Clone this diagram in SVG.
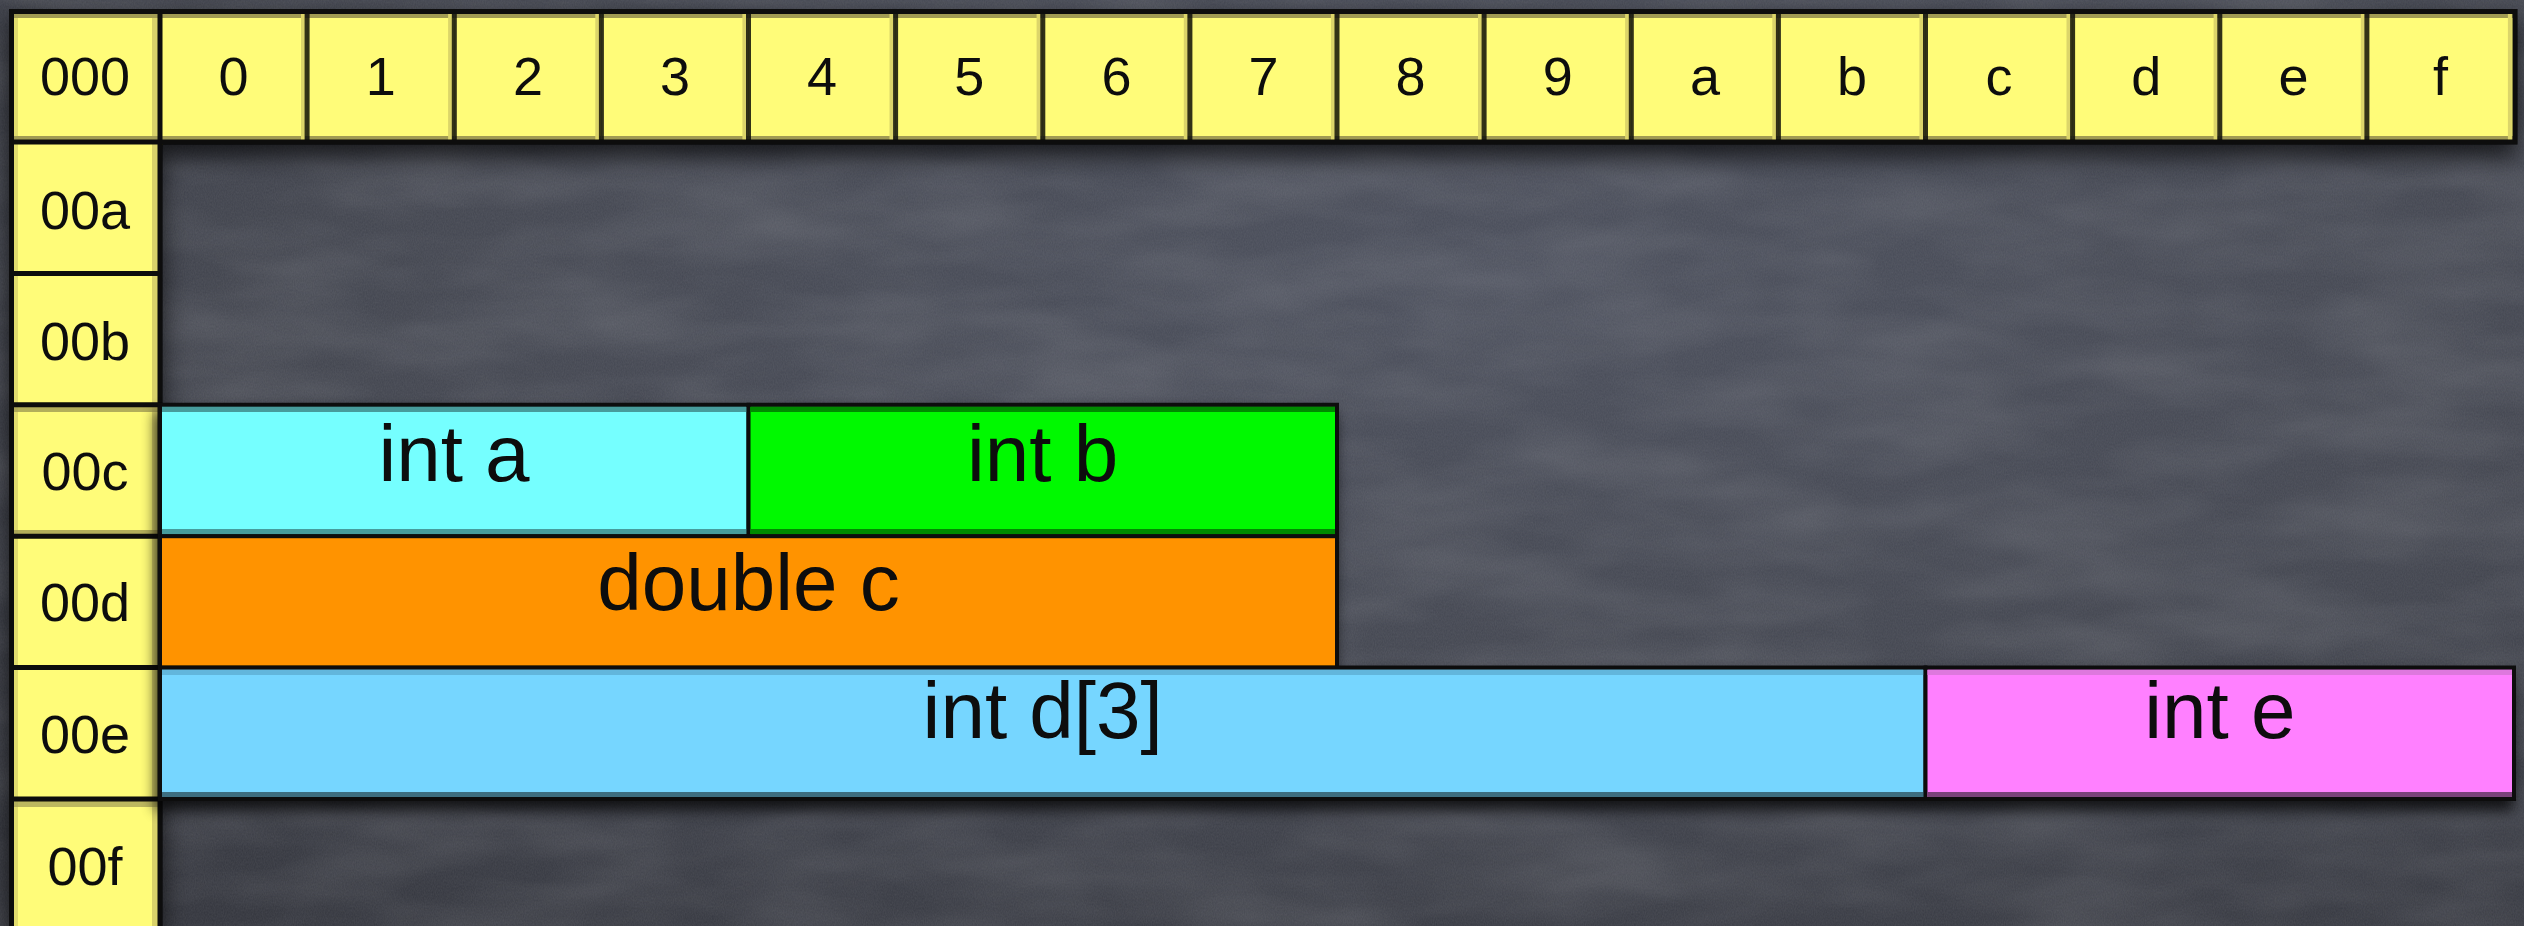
<svg xmlns="http://www.w3.org/2000/svg" xmlns:xlink="http://www.w3.org/1999/xlink" width="2524" height="926" viewBox="0 0 2524 926">
<defs>
  <radialGradient id="bg" cx="0.6" cy="0.3" r="0.85">
    <stop offset="0" stop-color="#4a4e5b"/>
    <stop offset="0.55" stop-color="#42454f"/>
    <stop offset="1" stop-color="#33353d"/>
  </radialGradient>
  <filter id="grain" x="0" y="0" width="100%" height="100%">
    <feTurbulence type="fractalNoise" baseFrequency="0.9 0.5" numOctaves="2" seed="3" result="n"/>
    <feColorMatrix type="matrix" values="0 0 0 0 1  0 0 0 0 1  0 0 0 0 1  0 0 0 0.08 0"/>
  </filter>
  <filter id="blotch" x="0" y="0" width="100%" height="100%">
    <feTurbulence type="fractalNoise" baseFrequency="0.006 0.02" numOctaves="3" seed="7"/>
    <feColorMatrix type="matrix" values="0 0 0 0 1  0 0 0 0 1  0 0 0 0 1  0 0 0 0.16 -0.05"/>
  </filter>
  <filter id="shadow" x="-5%" y="-20%" width="110%" height="160%">
    <feGaussianBlur in="SourceAlpha" stdDeviation="7"/>
    <feOffset dx="-3" dy="9" result="b"/>
    <feComponentTransfer><feFuncA type="linear" slope="0.75"/></feComponentTransfer>
    <feMerge><feMergeNode/><feMergeNode in="SourceGraphic"/></feMerge>
  </filter>
  <filter id="tshadow" x="-5%" y="-5%" width="110%" height="120%">
    <feGaussianBlur in="SourceAlpha" stdDeviation="12"/>
    <feOffset dx="0" dy="12" result="b"/>
    <feComponentTransfer><feFuncA type="linear" slope="0.7"/></feComponentTransfer>
    <feMerge><feMergeNode/><feMergeNode in="SourceGraphic"/></feMerge>
  </filter>
  <g id="hcell">
    <rect width="147.2" height="131" fill="#FFFC79"/>
    <rect width="147.2" height="5" y="2" fill="#A09A52"/>
    <rect width="147.2" height="5" y="125" fill="#A09A52"/>
    <rect width="4" height="131" x="141" fill="#DCD56A"/>
  </g>
  <g id="lcell">
    <rect width="149" height="131.4" fill="#FFFC79"/>
    <rect width="4" height="131.4" x="3" fill="#E2DC6E"/>
    <rect width="6" height="131.4" x="141" fill="#D9D26A"/>
  </g>
</defs>
<style>
  .h{font-family:"Liberation Sans",Arial,sans-serif;font-size:54px;fill:#111;text-anchor:middle}
  .v{font-family:"Liberation Sans",Arial,sans-serif;font-size:80px;fill:#0a0a0a;text-anchor:middle}
  .ln{stroke:#0d0d08;stroke-width:5;fill:none}
  .blk{stroke:#0a0a0a;stroke-width:4}
</style>

<rect width="2524" height="926" fill="url(#bg)"/>
<rect width="2524" height="926" filter="url(#blotch)"/>
<rect width="2524" height="926" filter="url(#grain)"/>

<g id="table" filter="url(#tshadow)">
  <g id="hdr-000"><use href="#lcell" x="11" y="11"/><rect x="11" y="13" width="149" height="5" fill="#A09A52"/><rect x="11" y="136" width="149" height="5" fill="#A09A52"/><text class="h" x="85" y="95">000</text></g>
  <g id="col-0"><use href="#hcell" x="160" y="11"/><text class="h" x="233.6" y="95">0</text></g>
  <g id="col-1"><use href="#hcell" x="307.1" y="11"/><text class="h" x="380.7" y="95">1</text></g>
  <g id="col-2"><use href="#hcell" x="454.3" y="11"/><text class="h" x="527.9" y="95">2</text></g>
  <g id="col-3"><use href="#hcell" x="601.4" y="11"/><text class="h" x="675" y="95">3</text></g>
  <g id="col-4"><use href="#hcell" x="748.5" y="11"/><text class="h" x="822.1" y="95">4</text></g>
  <g id="col-5"><use href="#hcell" x="895.6" y="11"/><text class="h" x="969.2" y="95">5</text></g>
  <g id="col-6"><use href="#hcell" x="1042.8" y="11"/><text class="h" x="1116.4" y="95">6</text></g>
  <g id="col-7"><use href="#hcell" x="1189.9" y="11"/><text class="h" x="1263.5" y="95">7</text></g>
  <g id="col-8"><use href="#hcell" x="1337" y="11"/><text class="h" x="1410.6" y="95">8</text></g>
  <g id="col-9"><use href="#hcell" x="1484.1" y="11"/><text class="h" x="1557.7" y="95">9</text></g>
  <g id="col-a"><use href="#hcell" x="1631.3" y="11"/><text class="h" x="1704.9" y="95">a</text></g>
  <g id="col-b"><use href="#hcell" x="1778.4" y="11"/><text class="h" x="1852" y="95">b</text></g>
  <g id="col-c"><use href="#hcell" x="1925.5" y="11"/><text class="h" x="1999.1" y="95">c</text></g>
  <g id="col-d"><use href="#hcell" x="2072.6" y="11"/><text class="h" x="2146.2" y="95">d</text></g>
  <g id="col-e"><use href="#hcell" x="2219.8" y="11"/><text class="h" x="2293.4" y="95">e</text></g>
  <g id="col-f"><use href="#hcell" x="2366.9" y="11"/><text class="h" x="2440.5" y="95">f</text></g>

  <g id="row-00a"><use href="#lcell" x="11" y="142"/><text class="h" x="85" y="229">00a</text></g>
  <g id="row-00b"><use href="#lcell" x="11" y="273.4"/><text class="h" x="85" y="360">00b</text></g>
  <g id="row-00c"><use href="#lcell" x="11" y="404.8"/><rect x="11" y="407" width="149" height="5" fill="#A09A52" opacity="0.8"/><rect x="11" y="530" width="149" height="5" fill="#A09A52" opacity="0.8"/><text class="h" x="85" y="490">00c</text></g>
  <g id="row-00d"><use href="#lcell" x="11" y="536.2"/><text class="h" x="85" y="621">00d</text></g>
  <g id="row-00e"><use href="#lcell" x="11" y="667.6"/><text class="h" x="85" y="753">00e</text></g>
  <g id="row-00f"><use href="#lcell" x="11" y="799"/><rect x="11" y="801" width="149" height="6" fill="#A09A52" opacity="0.7"/><text class="h" x="85" y="885">00f</text></g>

  <g id="grid">
    <path class="ln" d="M9 11.5H2517 M11.5 9V926 M160 9V926 M9 142H2517 M2515 9V144.5 M9 273.4H160 M9 404.8H160 M9 536.2H160 M9 667.6H160 M9 799H160"/>
    <path class="ln" stroke-opacity="0.85" d="M307.1 11V142 M454.3 11V142 M601.4 11V142 M748.5 11V142 M895.6 11V142 M1042.8 11V142 M1189.9 11V142 M1337 11V142 M1484.1 11V142 M1631.3 11V142 M1778.4 11V142 M1925.5 11V142 M2072.6 11V142 M2219.8 11V142 M2366.9 11V142"/>
  </g>
</g>

<g id="blocks" filter="url(#shadow)">
  <g id="int-a">
    <rect class="blk" x="160" y="404.8" width="588.5" height="131.4" fill="#75FFFF"/>
    <rect x="162" y="407" width="584.5" height="5" fill="#469C9C"/>
    <rect x="162" y="529" width="584.5" height="5" fill="#469C9C"/>
    <text class="v" x="454" y="481">int a</text>
  </g>
  <g id="int-b">
    <rect class="blk" x="748.5" y="404.8" width="588.5" height="131.4" fill="#00F900"/>
    <rect x="750.5" y="407" width="584.5" height="5" fill="#008A00"/>
    <rect x="750.5" y="529" width="584.5" height="5" fill="#008A00"/>
    <text class="v" x="1042.7" y="481">int b</text>
  </g>
  <g id="double-c">
    <rect class="blk" x="160" y="536.2" width="1177" height="131.4" fill="#FF9300"/>
    <text class="v" x="748.5" y="610">double c</text>
  </g>
  <g id="int-d3">
    <rect class="blk" x="160" y="667.6" width="1765.5" height="131.4" fill="#76D6FF"/>
    <rect x="162" y="670" width="1761.5" height="5" fill="#62B6DC"/>
    <rect x="162" y="792" width="1761.5" height="5" fill="#3E6E80"/>
    <text class="v" x="1042.7" y="738">int d[3]</text>
  </g>
  <g id="int-e">
    <rect class="blk" x="1925.5" y="667.6" width="588.5" height="131.4" fill="#FF80FF"/>
    <rect x="1927.5" y="670" width="584.5" height="5" fill="#DE78DE"/>
    <rect x="1927.5" y="792" width="584.5" height="5" fill="#7A427A"/>
    <text class="v" x="2219.8" y="738">int e</text>
  </g>
</g>
</svg>
